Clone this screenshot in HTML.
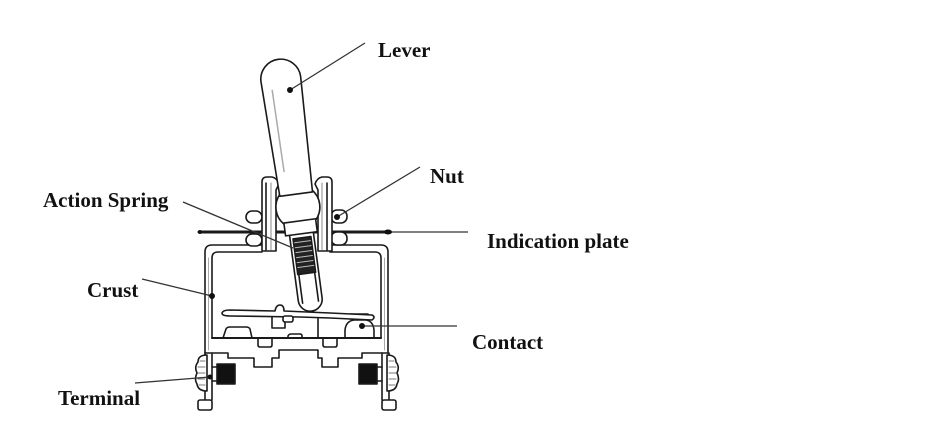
<!DOCTYPE html>
<html><head><meta charset="utf-8">
<style>
html,body{margin:0;padding:0;background:#fff;}
svg{display:block;}
text{font-family:"Liberation Serif",serif;font-weight:bold;font-size:21px;fill:#111;}
</style></head><body>
<svg width="950" height="440" viewBox="0 0 950 440" xmlns="http://www.w3.org/2000/svg">
<rect width="950" height="440" fill="#fff"/>
<g fill="none" stroke="#1a1a1a" stroke-width="1.6" stroke-linejoin="round" stroke-linecap="round">
  <!-- box walls -->
  <path d="M205 353 V252 Q205 245 212 245 H262"/>
  <path d="M212 338 V258 Q212 252 218 252 H262"/>
  <path d="M330 245 H381 Q388 245 388 252 V353"/>
  <path d="M330 252 H375 Q381 252 381 258 V338"/>
  <line x1="208.5" y1="258" x2="208.5" y2="350" stroke="#aaa" stroke-width="1"/>
  <line x1="384.5" y1="258" x2="384.5" y2="350" stroke="#aaa" stroke-width="1"/>
  <!-- floor -->
  <path d="M212 338 H381" stroke-width="2"/>
  <!-- base outline -->
  <path d="M205 353 H228 V358 H254 V367 H272 V358 H279 V350 H318 V358 H322 V367 H338 V358 H362 V353 H388"/>
  <path d="M258 338 V345 Q258 347 260 347 H270 Q272 347 272 345 V338"/>
  <path d="M323 338 V345 Q323 347 325 347 H335 Q337 347 337 345 V338"/>
  <!-- interior -->
  <path d="M223 338 L226 329 Q227 327 230 327 H246 Q249 327 250 329 L252 338"/>
  <path d="M288 338 V336 Q289 334 291 334 H300 Q302 334 302 336 V338"/>
  <path d="M318 318 V338"/>
  <path d="M272 317 V328 H285 V322"/>
  <path d="M345 338 V330 Q346 321 354 320 H366 Q373 321 374 330 V338"/>
  <rect x="350" y="314" width="18" height="5" fill="#555"/>
  <path d="M222 313 Q223 310 230 310 L275 311 Q276 305 280 305 Q284 305 284 311 L330 313 L372 315 Q376 317 372 320 L330 318 L300 317 L230 316 Q222 316 222 313 Z" fill="#fff"/>
  <rect x="283" y="316" width="10" height="6" rx="2" fill="#fff"/>

  <!-- plate -->
  <line x1="199" y1="232" x2="388" y2="232" stroke-width="3"/>
  <!-- nuts -->
  <rect x="246" y="211" width="16" height="12" rx="6" fill="#fff"/>
  <rect x="246" y="234" width="16" height="12" rx="6" fill="#fff"/>
  <rect x="331" y="210" width="16" height="13" rx="6" fill="#fff"/>
  <rect x="331" y="232" width="16" height="13" rx="6" fill="#fff"/>
  <!-- bushing -->
  <path d="M262 251 V182 Q262 177 267 177 H272 Q277 178 279 184 L276 190 V251 Z" fill="#fff"/>
  <line x1="266" y1="183" x2="266" y2="250"/>
  <line x1="271" y1="183" x2="271" y2="250" stroke="#888" stroke-width="1"/>
  <path d="M332 251 V182 Q332 177 327 177 H322 Q317 178 315 184 L318 190 V251 Z" fill="#fff"/>
  <line x1="327" y1="183" x2="327" y2="250"/>
  <line x1="322" y1="183" x2="322" y2="250" stroke="#888" stroke-width="1"/>

  <!-- terminals left -->
  <g>
    <path d="M205 353 V400 M212 353 V400"/>
    <rect x="198" y="400" width="14" height="10" rx="2" fill="#fff"/>
    <path d="M207 355 Q198 355 198 362 Q194 367 197 373 Q194 379 197 384 Q198 391 207 391 Z" fill="#fff"/>
    <path d="M200 361 H205 M198 367 H205 M198 373 H205 M198 379 H205 M199 385 H205" stroke="#777" stroke-width="1"/>
    <path d="M212 367 H217 M212 381 H217"/>
    <rect x="217" y="364" width="18" height="20" fill="#111"/>
  </g>
  <g transform="translate(594,0) scale(-1,1)">
    <path d="M205 353 V400 M212 353 V400"/>
    <rect x="198" y="400" width="14" height="10" rx="2" fill="#fff"/>
    <path d="M207 355 Q198 355 198 362 Q194 367 197 373 Q194 379 197 384 Q198 391 207 391 Z" fill="#fff"/>
    <path d="M200 361 H205 M198 367 H205 M198 373 H205 M198 379 H205 M199 385 H205" stroke="#777" stroke-width="1"/>
    <path d="M212 367 H217 M212 381 H217"/>
    <rect x="217" y="364" width="18" height="20" fill="#111"/>
  </g>

  <!-- lever assembly -->
  <g transform="rotate(-7.6 298 208)">
    <path d="M286 232 V300 A12 12 0 0 0 310 300 V232 Z" fill="#fff"/>
    <path d="M290 238 V303 M306 238 V303"/>
    <rect x="289" y="238" width="18" height="36" fill="#222"/>
    <path d="M290 242 H306 M290 247 H306 M290 252 H306 M290 257 H306 M290 262 H306 M290 267 H306" stroke="#bbb" stroke-width="1"/>
    <circle cx="298" cy="207" r="22" fill="#fff"/>
    <path d="M282 234 V221 H314 V234 Z" fill="#fff"/>
    <path d="M281.5 194 L278 78 A20 20 0 0 1 318 78 L314.5 194 Z" fill="#fff"/>
    <path d="M288 88 L289 170" stroke="#aaa" stroke-width="1.5"/>
  </g>
</g>

<!-- leaders -->
<g stroke="#333" stroke-width="1.3" fill="none">
  <line x1="290" y1="90" x2="365" y2="43"/>
  <line x1="337" y1="217" x2="420" y2="167"/>
  <line x1="388" y1="232" x2="468" y2="232"/>
  <line x1="183" y1="202" x2="293" y2="248"/>
  <line x1="142" y1="279" x2="212" y2="296"/>
  <line x1="362" y1="326" x2="457" y2="326"/>
  <line x1="135" y1="383" x2="210" y2="377"/>
</g>
<g fill="#111">
  <circle cx="290" cy="90" r="3"/>
  <circle cx="337" cy="217" r="3"/>
  <ellipse cx="388" cy="232" rx="4" ry="2.5"/>
  <circle cx="212" cy="296" r="3"/>
  <circle cx="362" cy="326" r="3"/>
  <circle cx="210" cy="377" r="2.5"/>
  <circle cx="200" cy="232" r="2"/>
</g>

<!-- labels -->
<text x="378" y="57">Lever</text>
<text x="430" y="183">Nut</text>
<text x="43" y="207">Action Spring</text>
<text x="487" y="248">Indication plate</text>
<text x="87" y="297">Crust</text>
<text x="472" y="349">Contact</text>
<text x="58" y="405">Terminal</text>
</svg>
</body></html>
